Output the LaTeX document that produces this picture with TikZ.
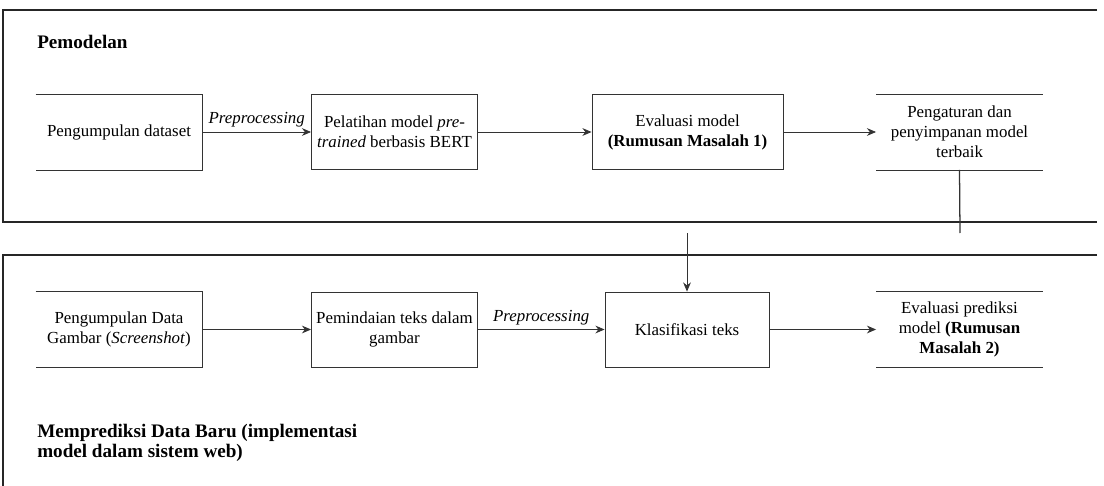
\documentclass[tikz,border=0pt]{standalone}
\usepackage{fontspec}
\setmainfont{Liberation Serif}
\usetikzlibrary{arrows.meta}

\tikzset{
  stage/.style={draw=black!80, line width=0.6pt, rectangle, minimum width=4.15cm, minimum height=1.875cm, align=center, inner sep=1pt, font=\fontsize{12}{14.2}\selectfont},
  bare/.style={stage, draw=none},
  flow/.style={-{Stealth[length=6.5pt,width=5.5pt]}, draw=black!80, line width=0.6pt},
  edge/.style={draw=black!80, line width=0.6pt},
  panel/.style={draw=black!85, line width=0.9pt},
  title/.style={anchor=west, align=left, inner sep=0pt, font=\fontsize{13.6}{14.5}\selectfont\bfseries},
  note/.style={above, inner sep=3pt, font=\fontsize{12}{14}\selectfont\itshape}
}

\begin{document}
\begin{tikzpicture}[x=0.025cm,y=-0.025cm]
\useasboundingbox (0,0) rectangle (1104,486);

% panels
\draw[panel] (1097,10) -- (3,10) -- (3,222) -- (1097,222);
\draw[panel] (1097,255) -- (3,255) -- (3,486);
\node[title] (pemodelan) at (37,42) {Pemodelan};
\node[title] (prediksi) at (37,443) {Memprediksi Data Baru (implementasi\\model dalam sistem web)};

% top row
\node[bare] (dataset) at (119,132) {Pengumpulan dataset};
\node[stage] (latih) at (394.5,132) {Pelatihan model \textit{pre-}\\\textit{trained} berbasis BERT};
\node[stage, minimum width=4.775cm] (evaluasi) at (687.5,132) {Evaluasi model\\\textbf{(Rumusan Masalah 1)}};
\node[bare] (simpan) at (959.5,132) {Pengaturan dan\\penyimpanan model\\terbaik};

% bottom row
\node[bare] (gambar) at (119,329.5) {Pengumpulan Data\\Gambar (\textit{Screenshot})};
\node[stage] (pindai) at (394.5,329.5) {Pemindaian teks dalam\\gambar};
\node[stage, minimum width=4.1cm] (klasifikasi) at (687,329.5) {Klasifikasi teks};
\node[bare] (hasil) at (959.5,329.5) {Evaluasi prediksi\\model \textbf{(Rumusan}\\\textbf{Masalah 2)}};

% open sides
\draw[edge] (dataset.north west) -- (dataset.north east) -- (dataset.south east) -- (dataset.south west);
\draw[edge] (gambar.north west) -- (gambar.north east) -- (gambar.south east) -- (gambar.south west);
\draw[edge] (simpan.north west) -- (simpan.north east);
\draw[edge] (simpan.south west) -- (simpan.south east);
\draw[edge] (hasil.north west) -- (hasil.north east);
\draw[edge] (hasil.south west) -- (hasil.south east);

% connectors
\draw[flow] (dataset) -- node[note] {Preprocessing} (latih);
\draw[flow] (latih) -- (evaluasi);
\draw[flow] (evaluasi) -- (simpan);
\draw[flow] (gambar) -- (pindai);
\draw[flow] (pindai) -- node[note] {Preprocessing} (klasifikasi);
\draw[flow] (klasifikasi) -- (hasil);
\coordinate (turun) at (960,233);
\coordinate (masuk) at (687,233);
\draw[edge, line width=0.9pt] (simpan.south) -- (turun);
\draw[flow] (masuk) -- (klasifikasi);
\end{tikzpicture}
\end{document}
